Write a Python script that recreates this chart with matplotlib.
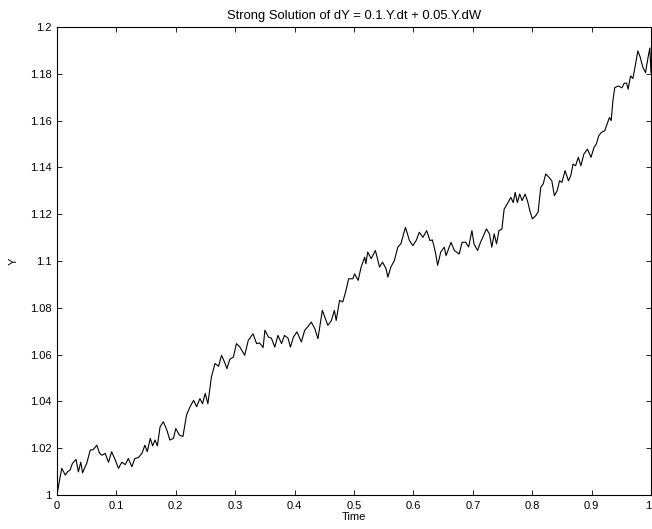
import matplotlib
matplotlib.use("Agg")
from matplotlib import pyplot as plt
from matplotlib.ticker import FuncFormatter

plt.rcParams['font.family'] = ['Liberation Sans', 'DejaVu Sans']
plt.rcParams['font.size'] = 8

# sample path of the SDE solution
time = [
    0.000, 0.004, 0.008, 0.014, 0.018, 0.022, 0.026, 0.032, 0.036, 0.040,
    0.043, 0.050, 0.056, 0.061, 0.067, 0.0716, 0.076, 0.081, 0.0867, 0.092,
    0.098, 0.1035, 0.109, 0.115, 0.120, 0.126, 0.131, 0.137, 0.143, 0.148,
    0.152, 0.157, 0.161, 0.165, 0.169, 0.1735, 0.179, 0.185, 0.190, 0.196,
    0.200, 0.206, 0.212, 0.218, 0.224, 0.230, 0.235, 0.2406, 0.245, 0.2495,
    0.254, 0.260, 0.266, 0.272, 0.277, 0.283, 0.286, 0.291, 0.297, 0.302,
    0.308, 0.316, 0.322, 0.330, 0.336, 0.341, 0.347, 0.350, 0.356, 0.361,
    0.3666, 0.372, 0.378, 0.383, 0.389, 0.393, 0.398, 0.404, 0.4114, 0.417,
    0.422, 0.428, 0.434, 0.4393, 0.4467, 0.456, 0.462, 0.467, 0.470, 0.4757,
    0.481, 0.4858, 0.491, 0.498, 0.501, 0.507, 0.512, 0.518, 0.520, 0.523,
    0.529, 0.536, 0.543, 0.548, 0.554, 0.557, 0.562, 0.568, 0.5737, 0.579,
    0.582, 0.5866, 0.5934, 0.599, 0.6046, 0.610, 0.616, 0.6223, 0.628, 0.632,
    0.637, 0.6408, 0.646, 0.652, 0.655, 0.6633, 0.669, 0.677, 0.682, 0.688,
    0.693, 0.6985, 0.702, 0.708, 0.713, 0.7193, 0.723, 0.728, 0.732, 0.736,
    0.740, 0.744, 0.749, 0.7528, 0.758, 0.764, 0.768, 0.7713, 0.775, 0.779,
    0.783, 0.788, 0.792, 0.796, 0.8003, 0.806, 0.810, 0.8144, 0.8186, 0.8228,
    0.828, 0.833, 0.8373, 0.842, 0.846, 0.850, 0.8553, 0.861, 0.865, 0.8687,
    0.873, 0.8776, 0.882, 0.887, 0.893, 0.899, 0.904, 0.908, 0.912, 0.9166,
    0.922, 0.926, 0.930, 0.933, 0.9358, 0.939, 0.945, 0.951, 0.955, 0.959,
    0.9615, 0.9656, 0.9695, 0.974, 0.9778, 0.982, 0.986, 0.9908, 0.995, 0.998,
    1.000,
]
y_path = [
    1.0000, 1.0060, 1.0114, 1.0085, 1.0100, 1.0107, 1.0135, 1.0152, 1.0099, 1.0140,
    1.0095, 1.0135, 1.0192, 1.0194, 1.0213, 1.0178, 1.0170, 1.0178, 1.0140, 1.0185,
    1.0150, 1.0114, 1.0140, 1.0130, 1.0156, 1.0121, 1.0156, 1.0160, 1.0178, 1.0213,
    1.0185, 1.0242, 1.0210, 1.0235, 1.0210, 1.0291, 1.0313, 1.0277, 1.0235, 1.0242,
    1.0284, 1.0256, 1.0250, 1.0341, 1.0377, 1.0405, 1.0377, 1.0412, 1.0390, 1.0434,
    1.0390, 1.0505, 1.0562, 1.0550, 1.0597, 1.0562, 1.0540, 1.0580, 1.0590, 1.0647,
    1.0632, 1.0597, 1.0661, 1.0689, 1.0647, 1.0650, 1.0630, 1.0704, 1.0675, 1.0670,
    1.0632, 1.0682, 1.0647, 1.0682, 1.0670, 1.0632, 1.0675, 1.0697, 1.0654, 1.0704,
    1.0718, 1.0739, 1.0711, 1.0668, 1.0789, 1.0725, 1.0746, 1.0789, 1.0746, 1.0832,
    1.0825, 1.0867, 1.0924, 1.0924, 1.0945, 1.0917, 1.0974, 1.1016, 1.0988, 1.1038,
    1.1010, 1.1045, 1.0974, 1.0995, 1.0967, 1.0931, 1.0974, 1.1002, 1.1059, 1.1074,
    1.1101, 1.1144, 1.1087, 1.1066, 1.1087, 1.1123, 1.1101, 1.1130, 1.1087, 1.1090,
    1.1038, 1.0981, 1.1038, 1.1059, 1.1023, 1.1080, 1.1045, 1.1030, 1.1080, 1.1080,
    1.1060, 1.1130, 1.1073, 1.1045, 1.1080, 1.1116, 1.1137, 1.1116, 1.1059, 1.1116,
    1.1073, 1.1130, 1.1137, 1.1222, 1.1244, 1.1272, 1.1250, 1.1293, 1.1250, 1.1286,
    1.1258, 1.1286, 1.1258, 1.1215, 1.1180, 1.1194, 1.1210, 1.1315, 1.1330, 1.1372,
    1.1358, 1.1343, 1.1279, 1.1300, 1.1343, 1.1336, 1.1386, 1.1343, 1.1365, 1.1414,
    1.1407, 1.1443, 1.1407, 1.1457, 1.1478, 1.1443, 1.1485, 1.1500, 1.1535, 1.1550,
    1.1556, 1.1585, 1.1613, 1.1600, 1.1684, 1.1741, 1.1748, 1.1740, 1.1760, 1.1760,
    1.1734, 1.1791, 1.1780, 1.1841, 1.1898, 1.1870, 1.1830, 1.1805, 1.1870, 1.1910,
    1.1805,
]
x_ticks = [0, 0.1, 0.2, 0.3, 0.4, 0.5, 0.6, 0.7, 0.8, 0.9, 1.0]
y_ticks = [1.0, 1.02, 1.04, 1.06, 1.08, 1.1, 1.12, 1.14, 1.16, 1.18, 1.2]

fig = plt.figure(figsize=(6.52, 5.29), dpi=100)
ax = fig.add_axes([57 / 652, 34 / 529, 594 / 652, 468 / 529])

ax.plot(time, y_path, color='black', linewidth=0.8)

ax.set_xlim(0, 1)
ax.set_ylim(1, 1.2)
ax.set_xticks(x_ticks)
ax.set_yticks(y_ticks)
fmt = FuncFormatter(lambda v, pos: f'{v:g}')
ax.xaxis.set_major_formatter(fmt)
ax.yaxis.set_major_formatter(fmt)
ax.tick_params(direction='in', top=True, right=True, length=3.8,
               width=0.6, pad=4, labelsize=8)
for spine in ax.spines.values():
    spine.set_linewidth(0.8)

# last x label sits at the figure's right edge, keep it inside
fig.canvas.draw()
ax.get_xticklabels()[-1].set_horizontalalignment('right')

ax.set_title('Strong Solution of dY = 0.1.Y.dt + 0.05.Y.dW',
             fontsize=9.4, pad=6)
ax.set_xlabel('Time', fontsize=8, labelpad=1)
ax.set_ylabel('Y', fontsize=8, labelpad=8)

fig.savefig('out.png', dpi=100)
